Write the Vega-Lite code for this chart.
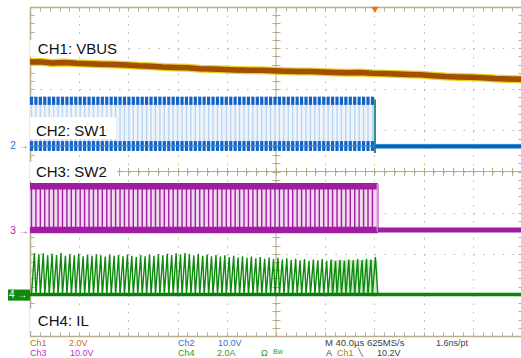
{
  "$schema": "https://vega.github.io/schema/vega-lite/v6.json",
  "width": 492,
  "height": 329,
  "autosize": {"type": "none"},
  "padding": {"left": 30, "top": 7, "right": 0, "bottom": 22},
  "background": "white",
  "config": {"view": {"stroke": null}, "font": "Liberation Sans", "text": {"font": "Liberation Sans"}},
  "resolve": {"axis": {"x": "independent", "y": "independent"}},
  "datasets": {
    "vbus": [
      {"t": -5.0, "v": 2.66}, {"t": -4.8, "v": 2.67}, {"t": -4.55, "v": 2.64}, {"t": -4.3, "v": 2.65},
      {"t": -4.05, "v": 2.63}, {"t": -3.8, "v": 2.62}, {"t": -3.55, "v": 2.61}, {"t": -3.3, "v": 2.6},
      {"t": -3.05, "v": 2.59}, {"t": -2.8, "v": 2.57}, {"t": -2.55, "v": 2.56}, {"t": -2.3, "v": 2.54},
      {"t": -2.05, "v": 2.53}, {"t": -1.8, "v": 2.52}, {"t": -1.55, "v": 2.5}, {"t": -1.3, "v": 2.49},
      {"t": -1.05, "v": 2.48}, {"t": -0.8, "v": 2.47}, {"t": -0.55, "v": 2.46}, {"t": -0.3, "v": 2.46},
      {"t": -0.05, "v": 2.45}, {"t": 0.2, "v": 2.44}, {"t": 0.45, "v": 2.43}, {"t": 0.7, "v": 2.43},
      {"t": 0.95, "v": 2.42}, {"t": 1.2, "v": 2.41}, {"t": 1.45, "v": 2.4}, {"t": 1.7, "v": 2.41},
      {"t": 1.95, "v": 2.39}, {"t": 2.2, "v": 2.38}, {"t": 2.45, "v": 2.37}, {"t": 2.7, "v": 2.36},
      {"t": 2.95, "v": 2.35}, {"t": 3.2, "v": 2.33}, {"t": 3.45, "v": 2.31}, {"t": 3.7, "v": 2.3},
      {"t": 3.95, "v": 2.29}, {"t": 4.2, "v": 2.28}, {"t": 4.45, "v": 2.26}, {"t": 4.7, "v": 2.25},
      {"t": 5.0, "v": 2.24}
    ],
    "pulses": [
      {"t": -4.97}, {"t": -4.88}, {"t": -4.79}, {"t": -4.7}, {"t": -4.61}, {"t": -4.52}, {"t": -4.43}, {"t": -4.34}, {"t": -4.25}, {"t": -4.16},
      {"t": -4.07}, {"t": -3.98}, {"t": -3.89}, {"t": -3.8}, {"t": -3.71}, {"t": -3.62}, {"t": -3.53}, {"t": -3.44}, {"t": -3.35}, {"t": -3.26},
      {"t": -3.17}, {"t": -3.08}, {"t": -2.99}, {"t": -2.9}, {"t": -2.81}, {"t": -2.72}, {"t": -2.63}, {"t": -2.54}, {"t": -2.45}, {"t": -2.36},
      {"t": -2.27}, {"t": -2.18}, {"t": -2.09}, {"t": -2.0}, {"t": -1.91}, {"t": -1.82}, {"t": -1.73}, {"t": -1.64}, {"t": -1.55}, {"t": -1.46},
      {"t": -1.37}, {"t": -1.28}, {"t": -1.19}, {"t": -1.1}, {"t": -1.01}, {"t": -0.92}, {"t": -0.83}, {"t": -0.74}, {"t": -0.65}, {"t": -0.56},
      {"t": -0.47}, {"t": -0.38}, {"t": -0.29}, {"t": -0.2}, {"t": -0.11}, {"t": -0.02}, {"t": 0.07}, {"t": 0.16}, {"t": 0.25}, {"t": 0.34},
      {"t": 0.43}, {"t": 0.52}, {"t": 0.61}, {"t": 0.7}, {"t": 0.79}, {"t": 0.88}, {"t": 0.97}, {"t": 1.06}, {"t": 1.15}, {"t": 1.24},
      {"t": 1.33}, {"t": 1.42}, {"t": 1.51}, {"t": 1.6}, {"t": 1.69}, {"t": 1.78}, {"t": 1.87}, {"t": 1.96}
    ],
    "il": [
      {"t": -5.0, "v": -2.99},
      {"t": -4.97, "v": -2.99}, {"t": -4.91, "v": -1.98}, {"t": -4.88, "v": -2.99}, {"t": -4.82, "v": -2.01},
      {"t": -4.79, "v": -2.99}, {"t": -4.73, "v": -1.99}, {"t": -4.7, "v": -2.99}, {"t": -4.64, "v": -2.04},
      {"t": -4.61, "v": -2.99}, {"t": -4.55, "v": -2.0}, {"t": -4.52, "v": -2.99}, {"t": -4.46, "v": -2.03},
      {"t": -4.43, "v": -2.99}, {"t": -4.37, "v": -1.98}, {"t": -4.34, "v": -2.99}, {"t": -4.28, "v": -2.05},
      {"t": -4.25, "v": -2.99}, {"t": -4.19, "v": -2.01}, {"t": -4.16, "v": -2.99}, {"t": -4.1, "v": -2.04},
      {"t": -4.07, "v": -2.99}, {"t": -4.01, "v": -2.0}, {"t": -3.98, "v": -2.99}, {"t": -3.92, "v": -2.06},
      {"t": -3.89, "v": -2.99}, {"t": -3.83, "v": -2.02}, {"t": -3.8, "v": -2.99}, {"t": -3.74, "v": -2.05},
      {"t": -3.71, "v": -2.99}, {"t": -3.65, "v": -2.01}, {"t": -3.62, "v": -2.99}, {"t": -3.56, "v": -2.04},
      {"t": -3.53, "v": -2.99}, {"t": -3.47, "v": -2.07}, {"t": -3.44, "v": -2.99}, {"t": -3.38, "v": -2.02},
      {"t": -3.35, "v": -2.99}, {"t": -3.29, "v": -2.05}, {"t": -3.26, "v": -2.99}, {"t": -3.2, "v": -2.03},
      {"t": -3.17, "v": -2.99}, {"t": -3.11, "v": -2.06}, {"t": -3.08, "v": -2.99}, {"t": -3.02, "v": -2.02},
      {"t": -2.99, "v": -2.99}, {"t": -2.93, "v": -2.05}, {"t": -2.9, "v": -2.99}, {"t": -2.84, "v": -2.08},
      {"t": -2.81, "v": -2.99}, {"t": -2.75, "v": -2.03}, {"t": -2.72, "v": -2.99}, {"t": -2.66, "v": -2.06},
      {"t": -2.63, "v": -2.99}, {"t": -2.57, "v": -2.02}, {"t": -2.54, "v": -2.99}, {"t": -2.48, "v": -2.05},
      {"t": -2.45, "v": -2.99}, {"t": -2.39, "v": -2.01}, {"t": -2.36, "v": -2.99}, {"t": -2.3, "v": -2.04},
      {"t": -2.27, "v": -2.99}, {"t": -2.21, "v": -2.0}, {"t": -2.18, "v": -2.99}, {"t": -2.12, "v": -2.03},
      {"t": -2.09, "v": -2.99}, {"t": -2.03, "v": -1.99}, {"t": -2.0, "v": -2.99}, {"t": -1.94, "v": -2.02},
      {"t": -1.91, "v": -2.99}, {"t": -1.85, "v": -1.98}, {"t": -1.82, "v": -2.99}, {"t": -1.76, "v": -2.01},
      {"t": -1.73, "v": -2.99}, {"t": -1.67, "v": -2.04}, {"t": -1.64, "v": -2.99}, {"t": -1.58, "v": -2.0},
      {"t": -1.55, "v": -2.99}, {"t": -1.49, "v": -2.05}, {"t": -1.46, "v": -2.99}, {"t": -1.4, "v": -2.02},
      {"t": -1.37, "v": -2.99}, {"t": -1.31, "v": -2.06}, {"t": -1.28, "v": -2.99}, {"t": -1.22, "v": -2.03},
      {"t": -1.19, "v": -2.99}, {"t": -1.13, "v": -2.07}, {"t": -1.1, "v": -2.99}, {"t": -1.04, "v": -2.04},
      {"t": -1.01, "v": -2.99}, {"t": -0.95, "v": -2.08}, {"t": -0.92, "v": -2.99}, {"t": -0.86, "v": -2.05},
      {"t": -0.83, "v": -2.99}, {"t": -0.77, "v": -2.09}, {"t": -0.74, "v": -2.99}, {"t": -0.68, "v": -2.06},
      {"t": -0.65, "v": -2.99}, {"t": -0.59, "v": -2.1}, {"t": -0.56, "v": -2.99}, {"t": -0.5, "v": -2.07},
      {"t": -0.47, "v": -2.99}, {"t": -0.41, "v": -2.11}, {"t": -0.38, "v": -2.99}, {"t": -0.32, "v": -2.08},
      {"t": -0.29, "v": -2.99}, {"t": -0.23, "v": -2.12}, {"t": -0.2, "v": -2.99}, {"t": -0.14, "v": -2.09},
      {"t": -0.11, "v": -2.99}, {"t": -0.05, "v": -2.13}, {"t": -0.02, "v": -2.99}, {"t": 0.04, "v": -2.1},
      {"t": 0.07, "v": -2.99}, {"t": 0.13, "v": -2.14}, {"t": 0.16, "v": -2.99}, {"t": 0.22, "v": -2.11},
      {"t": 0.25, "v": -2.99}, {"t": 0.31, "v": -2.15}, {"t": 0.34, "v": -2.99}, {"t": 0.4, "v": -2.12},
      {"t": 0.43, "v": -2.99}, {"t": 0.49, "v": -2.16}, {"t": 0.52, "v": -2.99}, {"t": 0.58, "v": -2.13},
      {"t": 0.61, "v": -2.99}, {"t": 0.67, "v": -2.17}, {"t": 0.7, "v": -2.99}, {"t": 0.76, "v": -2.14},
      {"t": 0.79, "v": -2.99}, {"t": 0.85, "v": -2.16}, {"t": 0.88, "v": -2.99}, {"t": 0.94, "v": -2.13},
      {"t": 0.97, "v": -2.99}, {"t": 1.03, "v": -2.17}, {"t": 1.06, "v": -2.99}, {"t": 1.12, "v": -2.14},
      {"t": 1.15, "v": -2.99}, {"t": 1.21, "v": -2.18}, {"t": 1.24, "v": -2.99}, {"t": 1.3, "v": -2.15},
      {"t": 1.33, "v": -2.99}, {"t": 1.39, "v": -2.17}, {"t": 1.42, "v": -2.99}, {"t": 1.48, "v": -2.14},
      {"t": 1.51, "v": -2.99}, {"t": 1.57, "v": -2.16}, {"t": 1.6, "v": -2.99}, {"t": 1.66, "v": -2.13},
      {"t": 1.69, "v": -2.99}, {"t": 1.75, "v": -2.15}, {"t": 1.78, "v": -2.99}, {"t": 1.84, "v": -2.12},
      {"t": 1.87, "v": -2.99}, {"t": 1.93, "v": -2.14}, {"t": 1.96, "v": -2.99}, {"t": 2.02, "v": -2.08},
      {"t": 2.07, "v": -2.99}, {"t": 5.0, "v": -2.99}
    ]
  },
  "layer": [
    {"data": {"values": [{}]}, "mark": {"type": "rule", "color": "#b8ad8a", "strokeWidth": 1}, "encoding": {"x": {"datum": 0, "axis": null}}},
    {"data": {"values": [{}]}, "mark": {"type": "rule", "color": "#b8ad8a", "strokeWidth": 1}, "encoding": {"y": {"datum": 0, "axis": null}}},

    {"data": {"name": "vbus"}, "mark": {"type": "line", "color": "#e2cf10", "strokeWidth": 8, "opacity": 0.9},
     "encoding": {
       "x": {"field": "t", "type": "quantitative", "scale": {"domain": [-5, 5], "nice": false, "zero": false},
             "axis": {"orient": "bottom", "title": null, "labels": false, "domain": true, "domainColor": "#b8ad8a", "domainWidth": 1.5,
                      "ticks": true, "tickColor": "#b8ad8a", "tickSize": -4, "tickWidth": 1,
                      "values": [-5,-4.8,-4.6,-4.4,-4.2,-4,-3.8,-3.6,-3.4,-3.2,-3,-2.8,-2.6,-2.4,-2.2,-2,-1.8,-1.6,-1.4,-1.2,-1,-0.8,-0.6,-0.4,-0.2,0,0.2,0.4,0.6,0.8,1,1.2,1.4,1.6,1.8,2,2.2,2.4,2.6,2.8,3,3.2,3.4,3.6,3.8,4,4.2,4.4,4.6,4.8,5],
                      "grid": true, "gridColor": "#b9b4a6", "gridDash": [1.5, 6.725], "gridWidth": 1,
                      "gridOpacity": {"condition": {"test": "abs(datum.value - round(datum.value)) < 0.01", "value": 1}, "value": 0}}},
       "y": {"field": "v", "type": "quantitative", "scale": {"domain": [-4, 4], "nice": false, "zero": false},
             "axis": {"orient": "left", "title": null, "labels": false, "domain": true, "domainColor": "#b8ad8a", "domainWidth": 1.5,
                      "ticks": true, "tickColor": "#b8ad8a", "tickSize": -4, "tickWidth": 1,
                      "values": [-4,-3.8,-3.6,-3.4,-3.2,-3,-2.8,-2.6,-2.4,-2.2,-2,-1.8,-1.6,-1.4,-1.2,-1,-0.8,-0.6,-0.4,-0.2,0,0.2,0.4,0.6,0.8,1,1.2,1.4,1.6,1.8,2,2.2,2.4,2.6,2.8,3,3.2,3.4,3.6,3.8,4],
                      "grid": true, "gridColor": "#b9b4a6", "gridDash": [1.5, 8.34], "gridWidth": 1,
                      "gridOpacity": {"condition": {"test": "abs(datum.value - round(datum.value)) < 0.01", "value": 1}, "value": 0}}}
     }},
    {"data": {"name": "vbus"}, "mark": {"type": "line", "color": "#a34e00", "strokeWidth": 5.5},
     "encoding": {
       "x": {"field": "t", "type": "quantitative",
             "axis": {"orient": "top", "title": null, "labels": false, "domain": true, "domainColor": "#b8ad8a", "domainWidth": 1.5,
                      "ticks": true, "tickColor": "#b8ad8a", "tickSize": -4, "tickWidth": 1, "grid": false,
                      "values": [-5,-4.8,-4.6,-4.4,-4.2,-4,-3.8,-3.6,-3.4,-3.2,-3,-2.8,-2.6,-2.4,-2.2,-2,-1.8,-1.6,-1.4,-1.2,-1,-0.8,-0.6,-0.4,-0.2,0,0.2,0.4,0.6,0.8,1,1.2,1.4,1.6,1.8,2,2.2,2.4,2.6,2.8,3,3.2,3.4,3.6,3.8,4,4.2,4.4,4.6,4.8,5]}},
       "y": {"field": "v", "type": "quantitative",
             "axis": {"orient": "right", "title": null, "labels": false, "domain": true, "domainColor": "#b8ad8a", "domainWidth": 1.5,
                      "ticks": true, "tickColor": "#b8ad8a", "tickSize": -4, "tickWidth": 1, "grid": false,
                      "values": [-4,-3.8,-3.6,-3.4,-3.2,-3,-2.8,-2.6,-2.4,-2.2,-2,-1.8,-1.6,-1.4,-1.2,-1,-0.8,-0.6,-0.4,-0.2,0,0.2,0.4,0.6,0.8,1,1.2,1.4,1.6,1.8,2,2.2,2.4,2.6,2.8,3,3.2,3.4,3.6,3.8,4]}}
     }},

    {"data": {"values": [{}]}, "mark": {"type": "rect", "color": "#eef4fb"},
     "encoding": {"x": {"datum": -5, "axis": null}, "x2": {"datum": 2.01}, "y": {"datum": 1.7, "axis": null}, "y2": {"datum": 0.63}}},
    {"data": {"name": "pulses"}, "mark": {"type": "rule", "color": "#b9d3ee", "strokeWidth": 1.3},
     "encoding": {"x": {"field": "t", "type": "quantitative", "axis": null}, "y": {"datum": 1.7, "axis": null}, "y2": {"datum": 0.63}}},
    {"data": {"name": "pulses"}, "mark": {"type": "rule", "color": "#1462c6", "strokeWidth": 3.2},
     "encoding": {"x": {"field": "t", "type": "quantitative", "axis": null}, "y": {"datum": 1.82, "axis": null}, "y2": {"datum": 1.62}}},
    {"data": {"name": "pulses"}, "mark": {"type": "rule", "color": "#1462c6", "strokeWidth": 3.2},
     "encoding": {"x": {"field": "t", "type": "quantitative", "axis": null}, "y": {"datum": 0.74, "axis": null}, "y2": {"datum": 0.5}}},
    {"data": {"values": [{}]}, "mark": {"type": "rule", "color": "#2f8fd8", "strokeWidth": 1.5, "opacity": 0.8},
     "encoding": {"x": {"datum": -5, "axis": null}, "x2": {"datum": 2.01}, "y": {"datum": 0.62, "axis": null}}},
    {"data": {"values": [{}]}, "mark": {"type": "rule", "color": "#3a8a96", "strokeWidth": 2.2},
     "encoding": {"x": {"datum": 2.01, "axis": null}, "y": {"datum": 1.75, "axis": null}, "y2": {"datum": 0.45}}},
    {"data": {"values": [{}]}, "mark": {"type": "rule", "color": "#0d5fc0", "strokeWidth": 4.5},
     "encoding": {"x": {"datum": 2.01, "axis": null}, "x2": {"datum": 5}, "y": {"datum": 0.615, "axis": null}}},
    {"data": {"values": [{}]}, "mark": {"type": "rule", "color": "#36b6e2", "strokeWidth": 1, "opacity": 0.7},
     "encoding": {"x": {"datum": 2.01, "axis": null}, "x2": {"datum": 5}, "y": {"datum": 0.66, "axis": null}}},

    {"data": {"values": [{}]}, "mark": {"type": "rect", "color": "#f1d9f1"},
     "encoding": {"x": {"datum": -5, "axis": null}, "x2": {"datum": 2.07}, "y": {"datum": -0.35, "axis": null}, "y2": {"datum": -1.42}}},
    {"data": {"name": "pulses"}, "mark": {"type": "rule", "color": "#a31da3", "strokeWidth": 1.4},
     "encoding": {"x": {"field": "t", "type": "quantitative", "axis": null}, "y": {"datum": -0.3, "axis": null}, "y2": {"datum": -1.46}}},
    {"data": {"values": [{}]}, "mark": {"type": "rule", "color": "#a01ca0", "strokeWidth": 6.5},
     "encoding": {"x": {"datum": -5, "axis": null}, "x2": {"datum": 2.07}, "y": {"datum": -0.36, "axis": null}}},
    {"data": {"values": [{}]}, "mark": {"type": "rule", "color": "#a01ca0", "strokeWidth": 6.5},
     "encoding": {"x": {"datum": -5, "axis": null}, "x2": {"datum": 2.07}, "y": {"datum": -1.42, "axis": null}}},
    {"data": {"values": [{}]}, "mark": {"type": "rule", "color": "#d68fd6", "strokeWidth": 2.5},
     "encoding": {"x": {"datum": 2.07, "axis": null}, "y": {"datum": -0.3, "axis": null}, "y2": {"datum": -1.46}}},
    {"data": {"values": [{}]}, "mark": {"type": "rule", "color": "#a01ca0", "strokeWidth": 5},
     "encoding": {"x": {"datum": 2.07, "axis": null}, "x2": {"datum": 5}, "y": {"datum": -1.42, "axis": null}}},

    {"data": {"values": [{}]}, "mark": {"type": "rect", "color": "#cfe9cb"},
     "encoding": {"x": {"datum": 1.1, "axis": null}, "x2": {"datum": 2.07}, "y": {"datum": -2.15, "axis": null}, "y2": {"datum": -2.99}}},
    {"data": {"values": [{}]}, "mark": {"type": "rule", "color": "#0b7d0b", "strokeWidth": 3.5},
     "encoding": {"x": {"datum": -5, "axis": null}, "x2": {"datum": 5}, "y": {"datum": -2.99, "axis": null}}},
    {"data": {"name": "il"}, "mark": {"type": "line", "color": "#0b8a0b", "strokeWidth": 1.4},
     "encoding": {
       "x": {"field": "t", "type": "quantitative", "sort": null,
             "axis": {"orient": "bottom", "offset": -168.5, "title": null, "labels": false, "domain": false, "grid": false,
                      "ticks": true, "tickColor": "#b8ad8a", "tickSize": 8, "tickWidth": 1,
                      "values": [-4.8,-4.6,-4.4,-4.2,-4,-3.8,-3.6,-3.4,-3.2,-3,-2.8,-2.6,-2.4,-2.2,-2,-1.8,-1.6,-1.4,-1.2,-1,-0.8,-0.6,-0.4,-0.2,0,0.2,0.4,0.6,0.8,1,1.2,1.4,1.6,1.8,2,2.2,2.4,2.6,2.8,3,3.2,3.4,3.6,3.8,4,4.2,4.4,4.6,4.8]}},
       "y": {"field": "v", "type": "quantitative",
             "axis": {"orient": "left", "offset": -250, "title": null, "labels": false, "domain": false, "grid": false,
                      "ticks": true, "tickColor": "#b8ad8a", "tickSize": 8, "tickWidth": 1,
                      "values": [-3.8,-3.6,-3.4,-3.2,-3,-2.8,-2.6,-2.4,-2.2,-2,-1.8,-1.6,-1.4,-1.2,-1,-0.8,-0.6,-0.4,-0.2,0,0.2,0.4,0.6,0.8,1,1.2,1.4,1.6,1.8,2,2.2,2.4,2.6,2.8,3,3.2,3.4,3.6,3.8]}}
     }},

    {"data": {"values": [{}]}, "mark": {"type": "rect", "color": "white"},
     "encoding": {"x": {"datum": -5, "axis": null}, "x2": {"datum": -3.09}, "y": {"datum": 3.2, "axis": null}, "y2": {"datum": 2.79}}},
    {"data": {"values": [{}]}, "mark": {"type": "rect", "color": "white"},
     "encoding": {"x": {"datum": -5, "axis": null}, "x2": {"datum": -3.25}, "y": {"datum": 1.32, "axis": null}, "y2": {"datum": 0.79}}},
    {"data": {"values": [{}]}, "mark": {"type": "rect", "color": "white"},
     "encoding": {"x": {"datum": -5, "axis": null}, "x2": {"datum": -3.23}, "y": {"datum": 0.23, "axis": null}, "y2": {"datum": -0.23}}},
    {"data": {"values": [{}]}, "mark": {"type": "rect", "color": "white"},
     "encoding": {"x": {"datum": -5, "axis": null}, "x2": {"datum": -3.68}, "y": {"datum": -3.34, "axis": null}, "y2": {"datum": -3.88}}},

    {"data": {"values": [{}]}, "mark": {"type": "text", "fontSize": 15, "align": "left", "baseline": "middle", "color": "#111111"},
     "encoding": {"x": {"datum": -4.84, "axis": null}, "y": {"datum": 2.99, "axis": null}, "text": {"value": "CH1: VBUS"}}},
    {"data": {"values": [{}]}, "mark": {"type": "text", "fontSize": 15, "align": "left", "baseline": "middle", "color": "#111111"},
     "encoding": {"x": {"datum": -4.88, "axis": null}, "y": {"datum": 0.985, "axis": null}, "text": {"value": "CH2: SW1"}}},
    {"data": {"values": [{}]}, "mark": {"type": "text", "fontSize": 15, "align": "left", "baseline": "middle", "color": "#111111"},
     "encoding": {"x": {"datum": -4.88, "axis": null}, "y": {"datum": -0.02, "axis": null}, "text": {"value": "CH3: SW2"}}},
    {"data": {"values": [{}]}, "mark": {"type": "text", "fontSize": 15, "align": "left", "baseline": "middle", "color": "#111111"},
     "encoding": {"x": {"datum": -4.84, "axis": null}, "y": {"datum": -3.635, "axis": null}, "text": {"value": "CH4: IL"}}},

    {"data": {"values": [{}]}, "mark": {"type": "point", "shape": "triangle-down", "size": 55, "filled": true, "color": "#ff6a1a", "opacity": 1},
     "encoding": {"x": {"datum": 2.01, "axis": null}, "y": {"datum": 3.93, "axis": null}}},

    {"data": {"values": [{}]}, "mark": {"type": "text", "fontSize": 10, "align": "right", "baseline": "middle", "color": "#2a6fd0"},
     "encoding": {"x": {"datum": -5.03, "axis": null}, "y": {"datum": 0.632, "axis": null}, "text": {"value": "2 →"}}},
    {"data": {"values": [{}]}, "mark": {"type": "text", "fontSize": 10, "align": "right", "baseline": "middle", "color": "#b020b0"},
     "encoding": {"x": {"datum": -5.03, "axis": null}, "y": {"datum": -1.435, "axis": null}, "text": {"value": "3 →"}}},
    {"data": {"values": [{}]}, "mark": {"type": "rect", "color": "#0e8a0e"},
     "encoding": {"x": {"datum": -5.447, "axis": null}, "x2": {"datum": -5.0}, "y": {"datum": -2.87, "axis": null}, "y2": {"datum": -3.14}}},
    {"data": {"values": [{}]}, "mark": {"type": "text", "fontSize": 10, "align": "center", "baseline": "middle", "color": "white"},
     "encoding": {"x": {"datum": -5.24, "axis": null}, "y": {"datum": -3.0, "axis": null}, "text": {"value": "4 →"}}},

    {"data": {"values": [{}]}, "mark": {"type": "text", "fontSize": 9, "align": "left", "baseline": "middle", "color": "#c0701e"},
     "encoding": {"x": {"datum": -5.0, "axis": null}, "y": {"datum": -4.18, "axis": null}, "text": {"value": "Ch1"}}},
    {"data": {"values": [{}]}, "mark": {"type": "text", "fontSize": 9, "align": "left", "baseline": "middle", "color": "#c0701e"},
     "encoding": {"x": {"datum": -4.207, "axis": null}, "y": {"datum": -4.18, "axis": null}, "text": {"value": "2.0V"}}},
    {"data": {"values": [{}]}, "mark": {"type": "text", "fontSize": 9, "align": "left", "baseline": "middle", "color": "#c030c0"},
     "encoding": {"x": {"datum": -5.0, "axis": null}, "y": {"datum": -4.41, "axis": null}, "text": {"value": "Ch3"}}},
    {"data": {"values": [{}]}, "mark": {"type": "text", "fontSize": 9, "align": "left", "baseline": "middle", "color": "#c030c0"},
     "encoding": {"x": {"datum": -4.187, "axis": null}, "y": {"datum": -4.41, "axis": null}, "text": {"value": "10.0V"}}},
    {"data": {"values": [{}]}, "mark": {"type": "text", "fontSize": 9, "align": "left", "baseline": "middle", "color": "#2f6fd0"},
     "encoding": {"x": {"datum": -1.992, "axis": null}, "y": {"datum": -4.18, "axis": null}, "text": {"value": "Ch2"}}},
    {"data": {"values": [{}]}, "mark": {"type": "text", "fontSize": 9, "align": "left", "baseline": "middle", "color": "#2f6fd0"},
     "encoding": {"x": {"datum": -1.179, "axis": null}, "y": {"datum": -4.18, "axis": null}, "text": {"value": "10.0V"}}},
    {"data": {"values": [{}]}, "mark": {"type": "text", "fontSize": 9, "align": "left", "baseline": "middle", "color": "#2a9a2a"},
     "encoding": {"x": {"datum": -1.992, "axis": null}, "y": {"datum": -4.41, "axis": null}, "text": {"value": "Ch4"}}},
    {"data": {"values": [{}]}, "mark": {"type": "text", "fontSize": 9, "align": "left", "baseline": "middle", "color": "#2a9a2a"},
     "encoding": {"x": {"datum": -1.199, "axis": null}, "y": {"datum": -4.41, "axis": null}, "text": {"value": "2.0A"}}},
    {"data": {"values": [{}]}, "mark": {"type": "text", "fontSize": 9, "align": "left", "baseline": "middle", "color": "#2a9a2a"},
     "encoding": {"x": {"datum": -0.305, "axis": null}, "y": {"datum": -4.41, "axis": null}, "text": {"value": "Ω"}}},
    {"data": {"values": [{}]}, "mark": {"type": "text", "fontSize": 7, "align": "left", "baseline": "middle", "color": "#2a9a2a"},
     "encoding": {"x": {"datum": -0.061, "axis": null}, "y": {"datum": -4.38, "axis": null}, "text": {"value": "Bw"}}},
    {"data": {"values": [{}]}, "mark": {"type": "text", "fontSize": 9.5, "align": "left", "baseline": "middle", "color": "#404040"},
     "encoding": {"x": {"datum": 0.996, "axis": null}, "y": {"datum": -4.18, "axis": null}, "text": {"value": "M 40.0µs 625MS/s"}}},
    {"data": {"values": [{}]}, "mark": {"type": "text", "fontSize": 9, "align": "left", "baseline": "middle", "color": "#404040"},
     "encoding": {"x": {"datum": 3.252, "axis": null}, "y": {"datum": -4.18, "axis": null}, "text": {"value": "1.6ns/pt"}}},
    {"data": {"values": [{}]}, "mark": {"type": "text", "fontSize": 9, "align": "left", "baseline": "middle", "color": "#404040"},
     "encoding": {"x": {"datum": 1.016, "axis": null}, "y": {"datum": -4.41, "axis": null}, "text": {"value": "A"}}},
    {"data": {"values": [{}]}, "mark": {"type": "text", "fontSize": 9, "align": "left", "baseline": "middle", "color": "#c0701e"},
     "encoding": {"x": {"datum": 1.24, "axis": null}, "y": {"datum": -4.41, "axis": null}, "text": {"value": "Ch1"}}},
    {"data": {"values": [{}]}, "mark": {"type": "text", "fontSize": 8, "align": "left", "baseline": "middle", "color": "#404040"},
     "encoding": {"x": {"datum": 1.667, "axis": null}, "y": {"datum": -4.41, "axis": null}, "text": {"value": "╲"}}},
    {"data": {"values": [{}]}, "mark": {"type": "text", "fontSize": 9, "align": "left", "baseline": "middle", "color": "#404040"},
     "encoding": {"x": {"datum": 2.053, "axis": null}, "y": {"datum": -4.41, "axis": null}, "text": {"value": "10.2V"}}}
  ]
}
